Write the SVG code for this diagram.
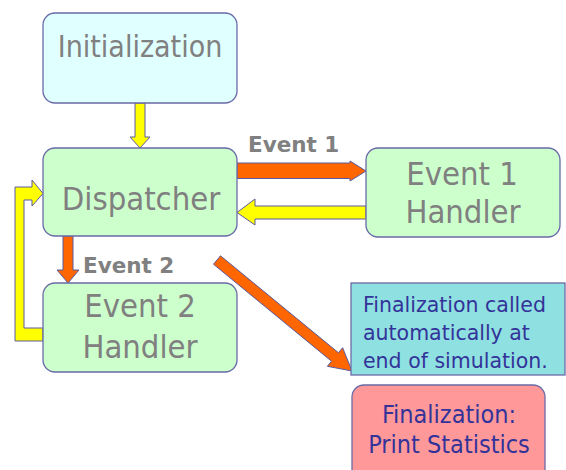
<svg xmlns="http://www.w3.org/2000/svg" width="566" height="470" viewBox="0 0 566 470">
<style>
.box{stroke:#6a6aa8;stroke-width:1.3}
.green{fill:#ccffcc}
.nt{font-family:"DejaVu Sans Condensed","DejaVu Sans",sans-serif;font-stretch:condensed;font-size:30px;fill:#808080;text-anchor:middle}
.big{font-size:32.5px}
.lbl{font-family:"DejaVu Sans","Liberation Sans",sans-serif;font-weight:bold;font-size:21.5px;fill:#808080}
.blue{fill:#333399}
.conn{stroke:#5a5aa0;stroke-width:1;stroke-linejoin:miter}
.or{fill:#ff6600}
.ye{fill:#ffff00}
</style>
<rect width="566" height="470" fill="#ffffff"/>
<g id="connectors">
<polygon class="conn ye" points="135,103 145,103 145,137 150,137 140,148 130,137 135,137"/>
<polygon class="conn or" points="237,163 350,163 350,161 366,171 350,181 350,178.5 237,178.5"/>
<polygon class="conn ye" points="366,206 255,206 255,199 237,212.5 255,225 255,219 366,219"/>
<polygon class="conn or" points="63,236 73,236 73,270 79,270 68,283 57,270 63,270"/>
<polygon class="conn ye" points="43,341 15,341 15,187 32,187 32,180 43,193.5 32,206 32,200 24,200 24,328 43,328"/>
<polygon class="conn or" points="213.5,264.2 331.5,361.2 327.4,366.3 352,371 342.6,347.7 338.5,352.8 220.5,255.8"/>
<text class="lbl" x="248" y="152">Event 1</text>
<text class="lbl" x="83" y="273">Event 2</text>
</g>
<g id="initialization">
<rect class="box" x="43" y="13" width="194" height="90" rx="12" fill="#e0ffff"/>
<text class="nt" x="140" y="57">Initialization</text>
</g>
<g id="dispatcher">
<rect class="box green" x="43" y="148" width="194" height="88" rx="12"/>
<text class="nt big" x="141" y="210">Dispatcher</text>
</g>
<g id="event1handler">
<rect class="box green" x="366" y="148" width="194" height="89" rx="12"/>
<text class="nt big" x="462" y="185">Event 1</text>
<text class="nt big" x="463" y="223">Handler</text>
</g>
<g id="event2handler">
<rect class="box green" x="43" y="283" width="194" height="89" rx="12"/>
<text class="nt big" x="140" y="317">Event 2</text>
<text class="nt big" x="140" y="358">Handler</text>
</g>
<g id="note">
<rect class="box" x="351" y="283" width="214" height="92" fill="#8fe0e0"/>
<g font-family="DejaVu Sans, Liberation Sans, sans-serif" font-size="20.5px" class="blue">
<text x="363" y="312">Finalization called</text>
<text x="363" y="340">automatically at</text>
<text x="363" y="368">end of simulation.</text>
</g>
</g>
<g id="finalization">
<rect class="box" x="352" y="385" width="193" height="100" rx="12" fill="#ff9999"/>
<g font-family="DejaVu Sans Condensed, DejaVu Sans, sans-serif" font-stretch="condensed" font-size="25px" class="blue" text-anchor="middle">
<text x="449" y="423">Finalization:</text>
<text x="449" y="453">Print Statistics</text>
</g>
</g>
</svg>
